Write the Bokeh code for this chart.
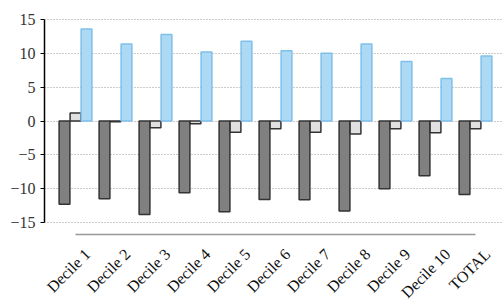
import numpy as np
from bokeh.plotting import figure
from bokeh.models import Range1d, FixedTicker, ColumnDataSource
from bokeh.transform import dodge
from bokeh.embed import file_html
from bokeh.resources import INLINE

categories = ["Decile 1", "Decile 2", "Decile 3", "Decile 4", "Decile 5", "Decile 6",
              "Decile 7", "Decile 8", "Decile 9", "Decile 10", "TOTAL"]
series_dark = [-12.3, -11.5, -13.8, -10.6, -13.4, -11.6, -11.65, -13.3, -10.0, -8.1, -10.85]
series_light = [1.2, -0.1, -1.0, -0.4, -1.65, -1.15, -1.65, -1.9, -1.15, -1.75, -1.15]
series_blue = [13.6, 11.4, 12.8, 10.2, 11.8, 10.4, 10.0, 11.4, 8.8, 6.3, 9.6]
y_ticks = [-15, -10, -5, 0, 5, 10, 15]

xs = np.arange(len(categories))
src = ColumnDataSource(dict(x=xs, dark=series_dark, light=series_light, blue=series_blue))

p = figure(output_backend="svg", toolbar_location=None,
           x_range=Range1d(-0.775, 10.7), y_range=Range1d(-16.77, 15.3),
           frame_width=459, frame_height=217)
p.min_border_left = 44
p.min_border_right = 0
p.min_border_top = 17
p.min_border_bottom = 60
p.outline_line_color = None
p.background_fill_color = None
p.border_fill_color = None

w = 0.27
off = 0.275
p.vbar(x=dodge("x", -off), top="dark", bottom=0, width=w, source=src,
       fill_color="#808080", line_color="#333333", line_width=1.5)
p.vbar(x=dodge("x", 0), top="light", bottom=0, width=w, source=src,
       fill_color="#e0e0e0", line_color="#333333", line_width=1.5)
p.vbar(x=dodge("x", off), top="blue", bottom=0, width=w, source=src,
       fill_color="#acdaf4", line_color="#7fc0ea", line_width=1.5)

# y axis
p.yaxis.ticker = FixedTicker(ticks=y_ticks)
p.yaxis.bounds = (-15, 15)
p.yaxis.axis_line_color = "black"
p.yaxis.axis_line_width = 1.5
p.yaxis.major_tick_out = 4
p.yaxis.major_tick_in = 0
p.yaxis.major_tick_line_color = "black"
p.yaxis.minor_tick_line_color = None
p.yaxis.major_label_text_font = "Liberation Serif"
p.yaxis.major_label_text_font_size = "16px"
p.yaxis.major_label_text_color = "#333333"
p.yaxis.major_label_standoff = 5

p.ygrid.ticker = FixedTicker(ticks=y_ticks)
p.ygrid.grid_line_color = "#999999"
p.ygrid.grid_line_dash = "1 2"
p.xgrid.grid_line_color = None

# x axis (labels anchored slightly right of each group, as in the reference)
label_pos = [float(i) + 0.3 for i in xs]
p.xaxis.ticker = FixedTicker(ticks=label_pos)
p.xaxis.major_label_overrides = {lp: c for lp, c in zip(label_pos, categories)}
p.xaxis.bounds = (0, len(categories) - 1)
p.xaxis.axis_line_color = "#999999"
p.xaxis.axis_line_width = 1.5
p.xaxis.major_tick_line_color = None
p.xaxis.minor_tick_line_color = None
p.xaxis.major_label_orientation = np.pi / 4
p.xaxis.major_label_text_font = "Liberation Serif"
p.xaxis.major_label_text_font_size = "16px"
p.xaxis.major_label_text_color = "#111111"
p.xaxis.major_label_standoff = 11

open("out.html", "w").write(file_html(p, INLINE))
